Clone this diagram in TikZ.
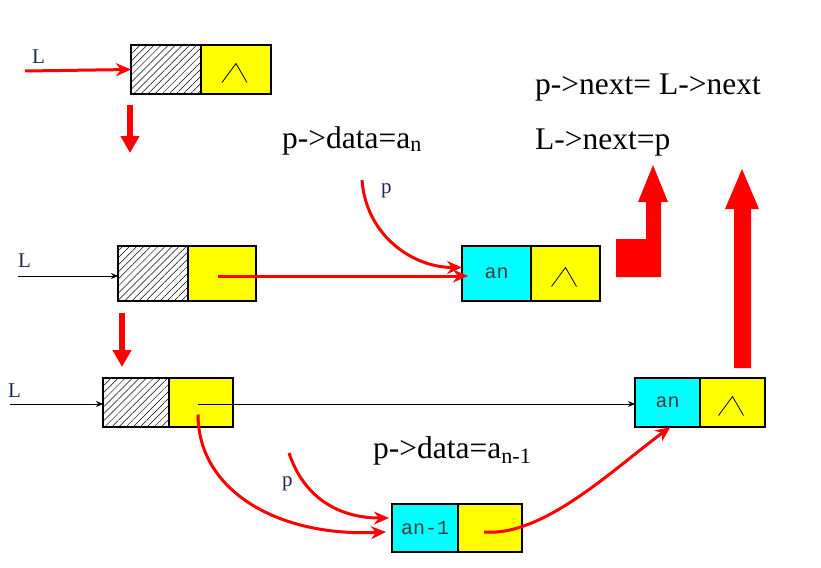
\documentclass[tikz,border=0pt]{standalone}
\usepackage{fontspec}
\setmainfont{Liberation Serif}
\newfontfamily\cellfont{Liberation Mono}
\usetikzlibrary{positioning,arrows.meta,patterns.meta}
\definecolor{cellCyan}{RGB}{0,255,255}
\definecolor{cellYellow}{RGB}{255,255,0}
\definecolor{lblBlue}{RGB}{30,40,85}
\definecolor{arrRed}{RGB}{255,0,0}
% the "^" mark of a null pointer
\newcommand\nilMark[1]{\draw[line width=0.8pt] ([shift={(-14,13)}]#1.center) -- ([shift={(0,-6)}]#1.center) -- ([shift={(11,13)}]#1.center);}
\begin{document}
\begin{tikzpicture}[x=1pt,y=-1pt,
    listCell/.style={draw=black,line width=1.2pt,inner sep=0pt,outer sep=0pt,minimum width=70pt,minimum height=49pt},
    headCell/.style={listCell,pattern={Lines[angle=45,distance=5pt,line width=0.5pt]}},
    dataCell/.style={listCell,fill=cellCyan,font=\cellfont\fontsize{20}{24}\selectfont,text=black!85!cyan},
    nextCell/.style={listCell,fill=cellYellow},
    ptrLabel/.style={font=\fontsize{21}{24}\selectfont,text=lblBlue,inner sep=0pt,anchor=base west},
    codeText/.style={font=\fontsize{31.5}{36}\selectfont,inner sep=0pt,anchor=base west},
    redArr/.style={draw=arrRed,line width=3pt,-{Stealth[length=15pt,width=13pt]}},
    blackArr/.style={draw=black,line width=0.9pt,-{Stealth[length=7pt,width=6pt]}},
    stepArr/.style={draw=arrRed,line width=6pt,-{Triangle[length=17pt,width=18pt]}},
]
\useasboundingbox (0,0) rectangle (821,567);

% row 1: empty list
\node[headCell] (h1) at (166,69.5) {};
\node[nextCell,right=0pt of h1] (t1) {};
\nilMark{t1}
\node[ptrLabel] (L1) at (32,64) {L};
\coordinate (L1in) at (25,71);
\draw[redArr] (L1in) -- (h1.west);
\coordinate (dn1a) at (130,105);
\coordinate (dn1b) at (130,153);
\draw[stepArr] (dn1a) -- (dn1b);

% row 2: insert a_n
\node[headCell,minimum height=55pt] (h2) at (153,273.5) {};
\node[nextCell,minimum height=55pt,minimum width=68pt,right=0pt of h2] (t2) {};
\node[dataCell,minimum height=55pt,minimum width=69pt] (d2) at (496.5,273.5) {an};
\node[nextCell,minimum height=55pt,minimum width=69pt,right=0pt of d2] (n2) {};
\nilMark{n2}
\node[ptrLabel] (L2) at (18,267) {L};
\coordinate (L2in) at (18,276);
\draw[blackArr] (L2in) -- (h2.west |- L2in);
\draw[redArr] ([shift={(-4,2.5)}]t2.center) -- ([shift={(6,2.5)}]d2.west);
\node[ptrLabel] (p1) at (381,193) {p};
\coordinate (p1in) at (362,180);
\draw[redArr] (p1in) .. controls +(4,55) and +(-50,0) .. ([shift={(0,-6)}]d2.west);
\coordinate (dn2a) at (122,313);
\coordinate (dn2b) at (122,367);
\draw[stepArr] (dn2a) -- (dn2b);

% row 3: insert a_(n-1)
\node[headCell,minimum width=66pt] (h3) at (136,402.5) {};
\node[nextCell,minimum width=64pt,right=0pt of h3] (t3) {};
\node[dataCell,minimum width=65pt] (d3) at (667.5,402.5) {an};
\node[nextCell,minimum width=65pt,right=0pt of d3] (n3) {};
\nilMark{n3}
\node[ptrLabel] (L3) at (8,397) {L};
\coordinate (L3in) at (10,404);
\draw[blackArr] (L3in) -- (h3.west |- L3in);
\draw[blackArr] ([shift={(-3,1.5)}]t3.center) -- (d3.west |- 0,404);
\node[dataCell,minimum width=66pt,minimum height=48pt] (d4) at (425,528) {an-1};
\node[nextCell,minimum width=64pt,minimum height=48pt,right=0pt of d4] (n4) {};
\draw[redArr] ([shift={(-3,12)}]t3.center) .. controls +(0,75) and +(-110,5) .. ([shift={(-6,4)}]d4.west);
\node[ptrLabel] (p2) at (282,486) {p};
\coordinate (p2in) at (289,453);
\draw[redArr] (p2in) .. controls +(15,45) and +(-50,0) .. ([shift={(-3,-10)}]d4.west);
\draw[redArr] ([shift={(-6,4)}]n4.center) .. controls +(60,5) and +(-55,40) .. ([xshift=3pt]d3.south);

% statements
\node[codeText] (s1) at (282,148) {p->data=a\textsubscript{n}};
\node[codeText] (s2) at (535,95) {p->next= L->next};
\node[codeText] (s3) at (535,149) {L->next=p};
\node[codeText] (s4) at (373,458) {p->data=a\textsubscript{n-1}};

% block arrows
\fill[arrRed] (616,277) -- (616,239) -- (646,239) -- (646,202) -- (638,202) -- (653,165)
    -- (668,202) -- (661,202) -- (661,277) -- cycle;
\fill[arrRed] (734,368) -- (734,209) -- (725,209) -- (742,169) -- (759,209) -- (751,209)
    -- (751,368) -- cycle;
\end{tikzpicture}
\end{document}
